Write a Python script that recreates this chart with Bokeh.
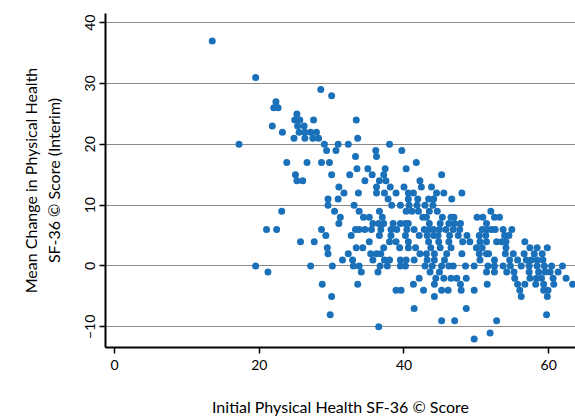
from bokeh.plotting import figure
from bokeh.models import Range1d, FixedTicker, ColumnDataSource
from bokeh.embed import file_html
from bokeh.resources import INLINE

# Initial Physical Health SF-36 score (x) and mean change (y), read row by row
initial_score = [
    13.5,
    19.5,
    28.5,
    30.0,
    22.3,
    22.0, 22.6,
    25.2,
    24.9, 25.6, 27.5, 33.4,
    21.8, 25.3, 26.2,
    23.2, 25.5, 26.3, 27.1, 27.9,
    24.8, 26.3, 27.4, 28.2, 33.6,
    17.2, 29.0, 30.9, 32.3, 38.0,
    29.3, 30.6, 36.1, 39.7,
    33.3, 36.2,
    23.8, 26.6, 28.6, 29.7, 41.7,
    33.5, 35.0, 37.4, 40.3,
    25.0, 30.0, 32.5, 35.6, 37.2, 45.2,
    25.2, 26.0, 34.6, 36.6, 37.5, 42.2,
    31.0, 36.2, 38.1, 40.0, 42.4, 43.8,
    31.7, 33.7, 36.2, 37.3, 38.9, 40.6, 41.3, 44.5, 45.5, 48.0,
    29.5, 30.9, 37.8, 40.6, 41.9, 43.4, 44.1, 46.6,
    29.5, 33.1, 38.3, 39.5, 40.7, 41.8, 42.9, 44.0,
    23.1, 30.4, 33.8, 36.6, 40.3, 41.1, 42.0, 43.5, 44.6, 52.0,
    31.2, 34.4, 35.2, 37.0, 42.6, 43.1, 45.3, 46.5, 46.9, 50.1, 50.9, 52.5, 53.2,
    31.0, 35.7, 36.5, 37.2, 38.5, 39.5, 40.2, 40.6, 43.5, 45.0, 46.2, 47.0, 47.8, 51.4,
    21.0, 22.4, 28.6, 33.3, 33.8, 34.6, 35.5, 36.8, 38.2, 39.0, 40.4, 41.4, 42.8,
    43.5, 44.1, 44.9, 45.8, 46.8, 47.7, 50.8, 51.5, 52.1, 52.6, 53.7, 54.9,
    29.2, 32.7, 36.6, 38.2, 40.2, 42.1, 43.2, 44.1, 44.7, 46.3, 47.5, 48.7, 50.4, 51.3, 53.9, 54.5,
    25.7, 27.6, 35.2, 38.0, 38.9, 40.6, 43.4, 44.8, 46.2, 48.1, 49.1, 50.5, 51.4, 52.8, 53.5, 54.1, 56.7,
    29.4, 33.4, 34.3, 37.2, 39.4, 40.6, 41.6, 43.7, 45.0, 46.5, 50.0, 50.8, 54.1, 57.4, 58.4, 59.8,
    29.5, 32.3, 35.4, 36.2, 36.8, 42.2, 43.1, 44.2, 45.9, 48.0, 50.4, 51.4, 51.7, 54.0, 55.1, 56.6, 58.0, 59.1,
    31.5, 32.9, 35.7, 37.3, 38.0, 39.5, 40.3, 41.4, 43.2, 44.2, 45.6, 50.5, 52.5, 54.6, 55.7, 56.9, 57.6, 58.4, 59.2,
    19.5, 27.1, 30.1, 33.0, 33.8, 36.7, 37.7, 39.5, 40.2, 42.9, 43.9, 45.2, 46.2,
    46.8, 48.5, 49.7, 51.6, 52.5, 53.7, 54.7, 56.2, 57.3, 58.4, 59.4, 60.4, 61.9,
    21.2, 34.1, 36.4, 43.6, 44.9, 51.4, 52.5, 54.2, 55.2, 57.3, 58.6, 59.5, 60.2, 61.3,
    42.1, 44.4, 45.5, 46.5, 47.3, 48.6, 55.3, 57.4, 58.3, 59.0, 60.6, 62.4,
    28.7, 33.6, 41.3, 44.2, 47.8, 51.5, 55.7, 56.7, 58.2, 59.3, 60.7, 63.3,
    38.9, 39.6, 42.7, 45.2, 46.1, 47.9, 49.7, 56.0, 59.3, 59.9,
    30.0, 44.2, 56.2, 59.8,
    41.4, 48.6,
    29.8, 59.7,
    45.2, 47.0, 52.8,
    36.5,
    51.9,
    49.7,
]

mean_change = [
    37,
    31,
    29,
    28,
    27,
    26, 26,
    25,
    24, 24, 24, 24,
    23, 23, 23,
    22, 22, 22, 22, 22,
    21, 21, 21, 21, 21,
    20, 20, 20, 20, 20,
    19, 19, 19, 19,
    18, 18,
    17, 17, 17, 17, 17,
    16, 16, 16, 16,
    15, 15, 15, 15, 15, 15,
    14, 14, 14, 14, 14, 14,
    13, 13, 13, 13, 13, 13,
    12, 12, 12, 12, 12, 12, 12, 12, 12, 12,
    11, 11, 11, 11, 11, 11, 11, 11,
    10, 10, 10, 10, 10, 10, 10, 10,
    9, 9, 9, 9, 9, 9, 9, 9, 9, 9,
    8, 8, 8, 8, 8, 8, 8, 8, 8, 8, 8, 8, 8,
    7, 7, 7, 7, 7, 7, 7, 7, 7, 7, 7, 7, 7, 7,
    6, 6, 6, 6, 6, 6, 6, 6, 6, 6, 6, 6, 6,
    6, 6, 6, 6, 6, 6, 6, 6, 6, 6, 6, 6,
    5, 5, 5, 5, 5, 5, 5, 5, 5, 5, 5, 5, 5, 5, 5, 5,
    4, 4, 4, 4, 4, 4, 4, 4, 4, 4, 4, 4, 4, 4, 4, 4, 4,
    3, 3, 3, 3, 3, 3, 3, 3, 3, 3, 3, 3, 3, 3, 3, 3,
    2, 2, 2, 2, 2, 2, 2, 2, 2, 2, 2, 2, 2, 2, 2, 2, 2, 2,
    1, 1, 1, 1, 1, 1, 1, 1, 1, 1, 1, 1, 1, 1, 1, 1, 1, 1, 1,
    0, 0, 0, 0, 0, 0, 0, 0, 0, 0, 0, 0, 0,
    0, 0, 0, 0, 0, 0, 0, 0, 0, 0, 0, 0, 0,
    -1, -1, -1, -1, -1, -1, -1, -1, -1, -1, -1, -1, -1, -1,
    -2, -2, -2, -2, -2, -2, -2, -2, -2, -2, -2, -2,
    -3, -3, -3, -3, -3, -3, -3, -3, -3, -3, -3, -3,
    -4, -4, -4, -4, -4, -4, -4, -4, -4, -4,
    -5, -5, -5, -5,
    -7, -7,
    -8, -8,
    -9, -9, -9,
    -10,
    -11,
    -12,
]

x_ticks = [0, 20, 40, 60]
y_ticks = [-10, 0, 10, 20, 30, 40]
x_label = "Initial Physical Health SF-36 \u00a9 Score"
y_label = "Mean Change in Physical Health\nSF-36 \u00a9 Score (Interim)"

FONT = "Lato"

src = ColumnDataSource(dict(x=initial_score, y=mean_change))

p = figure(width=575, height=419,
           x_range=Range1d(-1.25, 63.7), y_range=Range1d(-13.4, 41.5),
           output_backend="svg", toolbar_location=None,
           min_border_left=105, min_border_right=0,
           min_border_top=13, min_border_bottom=72)
p.outline_line_color = None
p.background_fill_color = "white"
p.border_fill_color = "white"

p.xgrid.visible = False
p.ygrid.grid_line_color = "#8a8a8a"
p.ygrid.grid_line_width = 1

p.xaxis.ticker = FixedTicker(ticks=x_ticks)
p.yaxis.ticker = FixedTicker(ticks=y_ticks)

for ax in (p.xaxis, p.yaxis):
    ax.axis_line_color = "black"
    ax.axis_line_width = 2
    ax.major_tick_line_color = "black"
    ax.major_tick_line_width = 1.5
    ax.major_tick_out = 6
    ax.major_tick_in = 0
    ax.minor_tick_line_color = None
    ax.major_label_text_font = FONT
    ax.major_label_text_font_size = "14px"
    ax.major_label_text_color = "black"
    ax.axis_label_text_font = FONT
    ax.axis_label_text_font_size = "16px"
    ax.axis_label_text_font_style = "normal"
    ax.axis_label_text_color = "black"

p.yaxis.major_label_orientation = "vertical"
p.yaxis.major_label_standoff = 4
p.yaxis.axis_label = y_label
p.yaxis.axis_label_standoff = 20

p.xaxis.major_label_standoff = 6
p.xaxis.axis_label = x_label
p.xaxis.axis_label_standoff = 24

p.scatter("x", "y", source=src, size=7, fill_color="#1a71b9",
          line_color=None)

open("out.html", "w").write(file_html(p, INLINE))
